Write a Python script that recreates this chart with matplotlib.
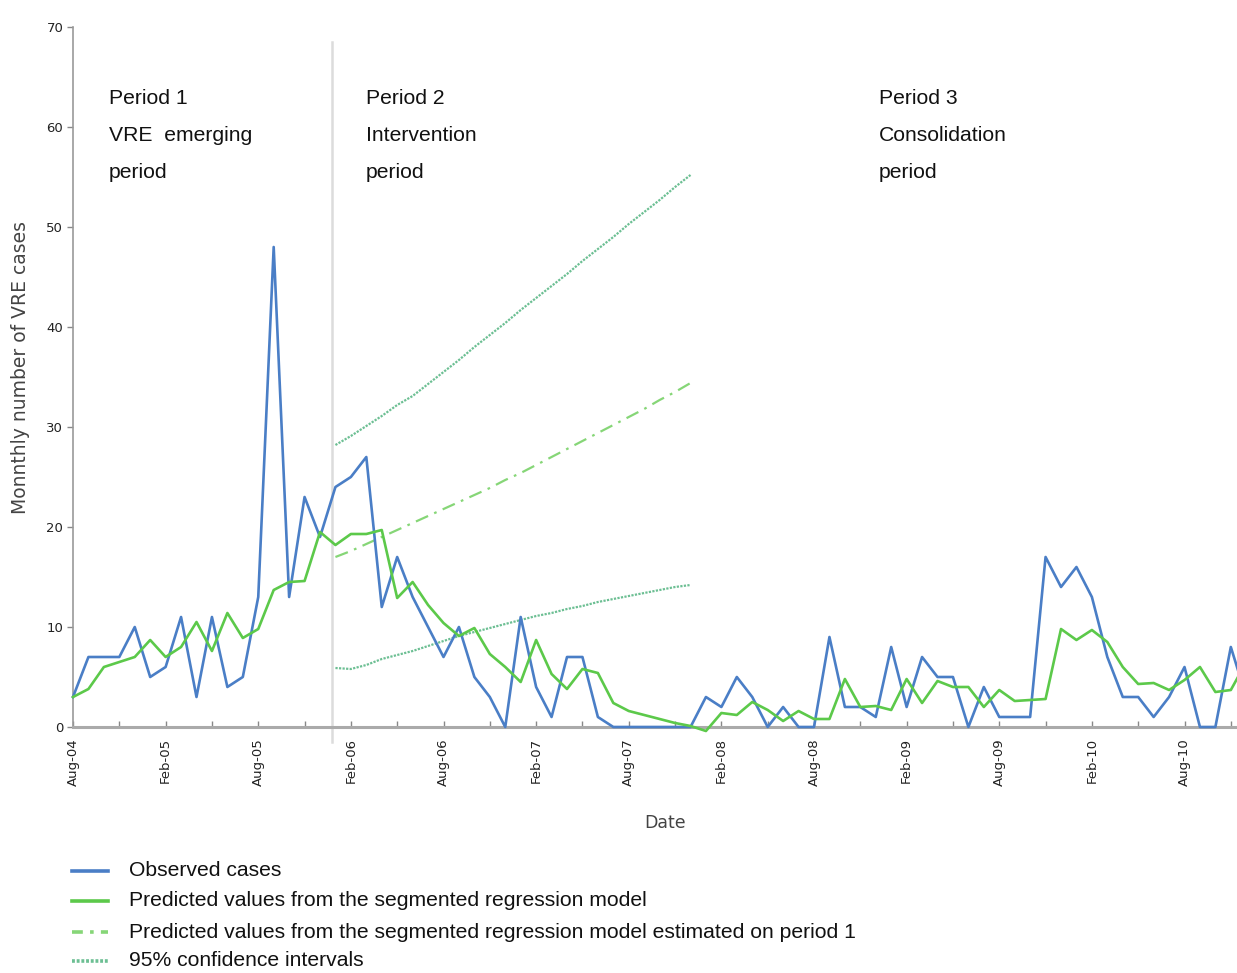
import matplotlib
matplotlib.use("Agg")
import matplotlib.pyplot as plt
from matplotlib.lines import Line2D
import numpy as np

# ---------------- data ----------------
months = list(range(77))  # month index, 0 = Aug-04

observed = [3, 7, 7, 7, 10, 5, 6, 11, 3, 11, 4, 5, 13, 48, 13, 23, 19, 24, 25, 27,
            12, 17, 13, 10, 7, 10, 5, 3, 0, 11, 4, 1, 7, 7, 1, 0, 0, 0, 0, 0,
            0, 3, 2, 5, 3, 0, 2, 0, 0, 9, 2, 2, 1, 8, 2, 7, 5, 5, 0, 4,
            1, 1, 1, 17, 14, 16, 13, 7, 3, 3, 1, 3, 6, 0, 0, 8, 3]

predicted = [3.0, 3.8, 6.0, 6.5, 7.0, 8.7, 7.0, 8.0, 10.5, 7.6, 11.4, 8.9, 9.8, 13.7,
             14.5, 14.6, 19.5, 18.2, 19.3, 19.3, 19.7, 12.9, 14.5, 12.2, 10.4, 9.1,
             9.9, 7.3, 6.0, 4.5, 8.7, 5.3, 3.8, 5.8, 5.4, 2.4, 1.6, 1.2, 0.8, 0.4,
             0.1, -0.4, 1.4, 1.2, 2.5, 1.7, 0.6, 1.6, 0.8, 0.8, 4.8, 2.0, 2.1, 1.7,
             4.8, 2.4, 4.6, 4.0, 4.0, 2.0, 3.7, 2.6, 2.7, 2.8, 9.8, 8.7, 9.7, 8.5,
             6.0, 4.3, 4.4, 3.7, 4.7, 6.0, 3.5, 3.7, 6.5]

cf_months = list(range(17, 41))
cf_pred = [17.0, 17.6, 18.3, 19.0, 19.7, 20.4, 21.1, 21.8, 22.5, 23.2, 23.9, 24.7,
           25.4, 26.2, 27.0, 27.8, 28.6, 29.4, 30.2, 31.0, 31.8, 32.7, 33.5, 34.4]
cf_upper = [28.2, 29.1, 30.1, 31.1, 32.2, 33.1, 34.3, 35.5, 36.7, 38.0, 39.2, 40.4,
            41.7, 42.9, 44.1, 45.3, 46.6, 47.8, 49.0, 50.3, 51.5, 52.7, 54.0, 55.2]
cf_lower = [5.9, 5.8, 6.2, 6.8, 7.2, 7.6, 8.1, 8.6, 9.1, 9.5, 9.9, 10.3, 10.7, 11.1,
            11.4, 11.8, 12.1, 12.5, 12.8, 13.1, 13.4, 13.7, 14.0, 14.2]

tick_months = [0, 6, 12, 18, 24, 30, 36, 42, 48, 54, 60, 66, 72]
tick_labels = ["Aug-04", "Feb-05", "Aug-05", "Feb-06", "Aug-06", "Feb-07", "Aug-07",
               "Feb-08", "Aug-08", "Feb-09", "Aug-09", "Feb-10", "Aug-10"]

intervention_month = 16.8
period_texts = [(2.3, ["Period 1", "VRE  emerging", "period"]),
                (18.95, ["Period 2", "Intervention", "period"]),
                (52.2, ["Period 3", "Consolidation", "period"])]

legend_labels = ["Observed cases",
                 "Predicted values from the segmented regression model",
                 "Predicted values from the segmented regression model estimated on period 1",
                 "95% confidence intervals"]

# ---------------- style ----------------
BLUE = "#4a7ec6"
GREEN = "#5cc94a"
LGREEN = "#86d677"
CIGREEN = "#6cbf93"

W, H = 1237, 973
fig = plt.figure(figsize=(W / 100, H / 100), dpi=100)
ax = fig.add_axes([73 / W, 1 - 727 / H, 1 - 73 / W, (727 - 27) / H])

ax.plot(months, observed, color=BLUE, lw=1.9, zorder=3, clip_on=False)
ax.plot(months, predicted, color=GREEN, lw=1.9, zorder=4, clip_on=False)
ax.plot(cf_months, cf_pred, color=LGREEN, lw=1.6, ls=(0, (6, 3, 1.2, 3)), zorder=2)
ax.plot(cf_months, cf_upper, color=CIGREEN, lw=1.6, ls=(0, (1, 0.6)), zorder=2)
ax.plot(cf_months, cf_lower, color=CIGREEN, lw=1.6, ls=(0, (1, 0.6)), zorder=2)

ax.plot([intervention_month, intervention_month], [-1.5, 68.5], color="#dcdcdc",
        lw=1.8, zorder=1, clip_on=False)

ax.set_xlim(0, 75.4)
ax.set_ylim(0, 70)

ax.set_yticks(range(0, 71, 10))
ax.set_xticks(tick_months)
ax.set_xticklabels(tick_labels, rotation=90, fontsize=9.5, color="#222222")
ax.set_xticks(range(0, 76, 3), minor=True)
ax.tick_params(axis="y", labelsize=9.5, labelcolor="#222222", color="#888888",
               length=4, width=1, direction="out", pad=3)
ax.tick_params(axis="x", which="both", direction="in", length=4, width=1,
               color="#888888", pad=8)

for s in ["top", "right"]:
    ax.spines[s].set_visible(False)
ax.spines["left"].set_color("#999999")
ax.spines["left"].set_linewidth(1.2)
ax.spines["bottom"].set_color("#aaaaaa")
ax.spines["bottom"].set_linewidth(2.2)

ax.set_ylabel("Monnthly number of VRE cases", fontsize=13.5, color="#444444")
ax.yaxis.set_label_coords(-0.037, 0.513)
ax.set_xlabel("Date", fontsize=12.5, color="#444444")
ax.xaxis.set_label_coords(0.5086, -0.125)

for xm, lines in period_texts:
    for k, t in enumerate(lines):
        ax.text(xm, 62.9 - k * 3.75, t, fontsize=15.2, family="Liberation Sans",
                color="#111111", va="center", ha="left")

# ---------------- legend (manual) ----------------
styles = [dict(color=BLUE, lw=2.6, ls="-"),
          dict(color=GREEN, lw=2.6, ls="-"),
          dict(color=LGREEN, lw=2.6, ls=(0, (3, 2, 1, 2))),
          dict(color=CIGREEN, lw=2.6, ls=(0, (0.8, 0.5)))]
rows_y = [871, 901, 932, 961]
for st, yy, lab in zip(styles, rows_y, legend_labels):
    yf = 1 - yy / H
    fig.add_artist(Line2D([72 / W, 108 / W], [yf, yf], transform=fig.transFigure, **st))
    fig.text(129 / W, yf, lab, fontsize=15.2, family="Liberation Sans",
             color="#111111", va="center", ha="left")

fig.savefig("out.png", dpi=100)
